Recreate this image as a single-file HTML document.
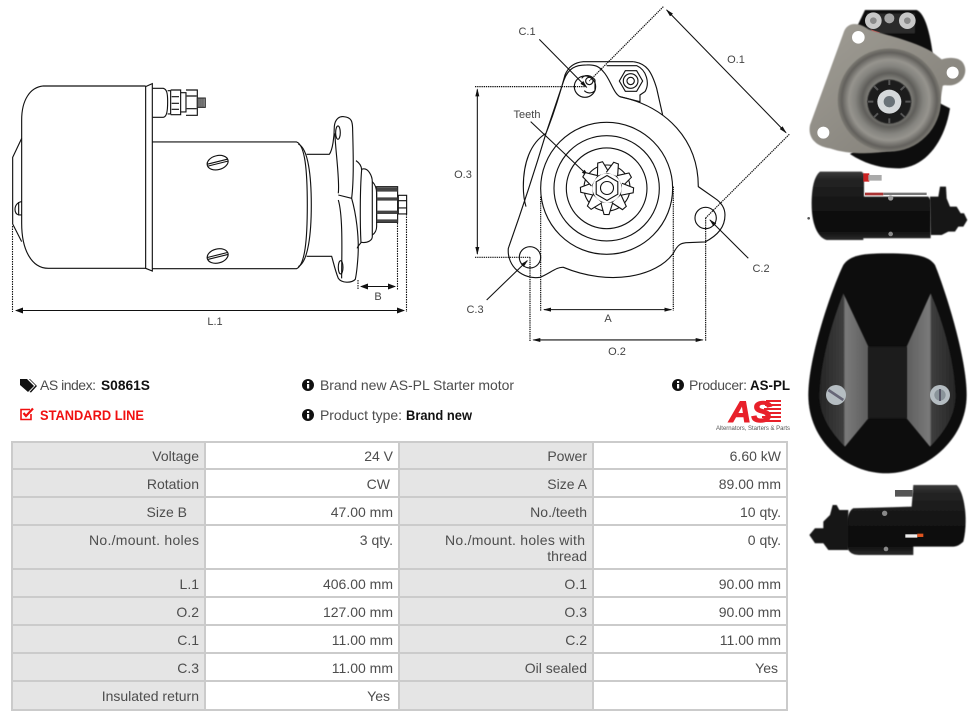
<!DOCTYPE html>
<html><head><meta charset="utf-8"><style>
html,body{margin:0;padding:0;background:#fff;width:976px;height:720px;overflow:hidden}
svg{display:block}
text{font-family:"Liberation Sans",sans-serif}
.d{fill:none;stroke:#111;stroke-width:3.4}
.t{font-size:14px;fill:#4d4d4d;text-anchor:end}
.l{font-size:11px;fill:#444;text-anchor:middle}
.h{font-size:14px;fill:#4d4d4d}
.b{font-size:14px;fill:#111;font-weight:bold}
</style></head><body>
<svg width="976" height="720" viewBox="0 0 976 720" xmlns="http://www.w3.org/2000/svg">
<defs>
<marker id="a" markerWidth="8" markerHeight="6" refX="7" refY="3" orient="auto-start-reverse" markerUnits="userSpaceOnUse"><path d="M0,0L8,3L0,6z" fill="#111"/></marker>
<marker id="z" markerWidth="24" markerHeight="18" refX="21" refY="9" orient="auto-start-reverse" markerUnits="userSpaceOnUse"><path d="M0,3L24,9L0,15z" fill="#111"/></marker>
<filter id="s" x="-5%" y="-5%" width="110%" height="110%"><feGaussianBlur stdDeviation="1.5"/></filter>
<linearGradient id="k" x1="0" y1="0" x2="0" y2="1"><stop offset="0" stop-color="#3a3a3a"/><stop offset=".12" stop-color="#242424"/><stop offset=".5" stop-color="#141414"/><stop offset=".85" stop-color="#0a0a0a"/><stop offset="1" stop-color="#2c2c2c"/></linearGradient>
<linearGradient id="p" x1="0" y1="0" x2="1" y2="1"><stop offset="0" stop-color="#a09d95"/><stop offset="1" stop-color="#7f7c75"/></linearGradient>
<radialGradient id="r"><stop offset="0" stop-color="#666"/><stop offset=".42" stop-color="#7d7c77"/><stop offset=".52" stop-color="#5f5e5a"/><stop offset=".66" stop-color="#85847f"/><stop offset=".78" stop-color="#96948e"/><stop offset=".92" stop-color="#62605c"/><stop offset="1" stop-color="#7c7a73"/></radialGradient>
<linearGradient id="f" x1="0" y1="0" x2="1" y2="0"><stop offset="0" stop-color="#262626"/><stop offset=".49" stop-color="#3e3e3e"/><stop offset=".53" stop-color="#7a7a7a"/><stop offset="1" stop-color="#5e5e5e"/></linearGradient>
<linearGradient id="f2" x1="1" y1="0" x2="0" y2="0"><stop offset="0" stop-color="#262626"/><stop offset=".49" stop-color="#3e3e3e"/><stop offset=".53" stop-color="#7a7a7a"/><stop offset="1" stop-color="#5e5e5e"/></linearGradient>
<path id="tooth" d="M-6,-14.500L-2.500,-26.500H2.500L6,-14.500" fill="#fff" stroke="#111" stroke-width="1.100"/>
</defs>

<!-- side drawing -->
<g transform="translate(0,70) scale(.3333)">
<path class="d" d="M437,48H130C90,52 65,90 65,150V460C65,540 95,595 145,595H437"/>
<path class="d" d="M437,50V595L457,603V41Z"/>
<path class="d" d="M65,205L38,262V462L65,515"/>
<path class="d" d="M66,395C55,395 45,405 45,418C45,428 50,433 56,435H66M56,396V434"/>
<path class="d" d="M458,55H490C500,58 503,68 503,95C503,125 500,140 490,142H458"/>
<path class="d" d="M503,62H512V132H503M512,60H542V134H512M515,80H537M515,100H537M515,118H537M542,68H558V126H542M558,60H592V136H558M560,78H590M560,116H590"/>
<path d="M592,84H616V112H592Z" fill="#999" stroke="#222" stroke-width="3"/>
<path d="M597,84V112M603,84V112M609,84V112" stroke="#222" stroke-width="2"/>
<path class="d" d="M457,216H890C915,225 922,300 922,405C922,510 915,585 890,596H457"/>
<path class="d" d="M895,222C925,235 934,320 934,405C934,490 925,575 895,590"/>
<path class="d" d="M920,253H988C998,240 1003,200 1003,170C1005,145 1020,138 1032,140C1055,142 1058,155 1058,180C1060,250 1062,330 1055,385C1068,430 1078,500 1074,560C1072,590 1070,610 1066,628C1055,640 1025,640 1015,625C1005,600 1000,575 995,559H920"/>
<path class="d" d="M1015,370C1020,330 1005,230 1005,190M1015,390C1030,440 1025,560 1025,625M1015,375L1055,385"/>
<ellipse class="d" cx="1014" cy="188" rx="7" ry="20"/>
<ellipse class="d" cx="1022" cy="592" rx="7" ry="20"/>
<path class="d" d="M1068,272C1080,280 1085,290 1085,300C1080,360 1080,460 1083,518C1078,525 1072,530 1072,535"/>
<path class="d" d="M1085,298C1105,290 1117,320 1117,335V500C1117,510 1105,520 1083,517"/>
<path class="d" d="M1117,335C1127,345 1130,355 1130,370V470C1130,480 1125,490 1117,495"/>
<path class="d" d="M1130,350H1193V457H1130Z"/>
<path d="M1130,352H1193V365H1130ZM1130,382H1193V392H1130ZM1130,422H1193V432H1130ZM1130,448H1193V456H1130Z" fill="#444"/>
<path class="d" d="M1195,376H1220V432H1195ZM1195,392H1220M1195,414H1220"/>
<g transform="rotate(-14 653 278)"><ellipse class="d" cx="653" cy="278" rx="32" ry="21"/><path class="d" d="M622,275H684M622,281H684"/></g>
<g transform="rotate(-14 653 558)"><ellipse class="d" cx="653" cy="558" rx="32" ry="21"/><path class="d" d="M622,555H684M622,561H684"/></g>
</g>
<g fill="none" stroke="#111" stroke-width="1.100">
<path d="M12.500,226V312M358,280V290M397.500,223V290M406.500,214V312" stroke-dasharray="1.500 1"/>
<path d="M16,310.500H404" marker-start="url(#a)" marker-end="url(#a)"/>
<path d="M361,286.500H395" marker-start="url(#a)" marker-end="url(#a)"/>
</g>
<text class="l" x="215" y="325">L.1</text>
<text class="l" x="378" y="300">B</text>

<!-- front drawing -->
<g transform="translate(440,0) scale(.3333)">
<path class="d" d="M540,290L600,305V285L615,275C630,250 620,210 590,197H500"/>
<path class="d" d="M580,185H430C405,187 385,200 375,225C355,300 330,370 318,400C270,560 235,660 205,745C200,800 250,840 300,832C330,820 350,800 370,802C510,860 650,830 700,760C715,730 725,730 740,728L795,726C835,705 855,680 855,645C855,620 840,605 825,595L775,560C775,420 680,320 540,290C520,280 510,235 490,215C478,200 465,193 440,195C405,195 385,205 372,240L318,400"/>
<path class="d" d="M580,185C620,190 635,215 650,265L668,345"/>
<path class="d" d="M318,400C270,430 250,490 250,560C250,580 252,600 258,620"/>
<circle class="d" cx="500" cy="565" r="198"/><circle class="d" cx="500" cy="565" r="158"/><circle class="d" cx="500" cy="565" r="121"/>
<circle class="d" cx="435" cy="260" r="32"/><circle class="d" cx="270" cy="772" r="32"/><circle class="d" cx="797" cy="654" r="32"/>
<path class="d" d="M425,235C435,222 455,225 465,240V272C455,282 440,280 433,272"/>
<circle class="d" cx="448" cy="243" r="11"/>
<path class="d" d="M556,212H590L608,243L590,274H556L538,243Z"/><circle class="d" cx="572" cy="243" r="22"/><circle class="d" cx="572" cy="243" r="11"/>
<g fill="none" stroke="#111" stroke-width="3.200">
<path d="M298,118L440,262" marker-end="url(#z)"/>
<path d="M272,365L445,528" marker-end="url(#z)"/>
<path d="M925,775L810,660" marker-end="url(#z)"/>
<path d="M140,900L262,782" marker-end="url(#z)"/>
<path d="M680,30L1038,398" marker-start="url(#z)" marker-end="url(#z)"/>
<path d="M112,268V762" marker-start="url(#z)" marker-end="url(#z)"/>
<path d="M312,929H694" marker-start="url(#z)" marker-end="url(#z)"/>
<path d="M280,1020H788" marker-start="url(#z)" marker-end="url(#z)"/>
<g stroke-dasharray="4 2.500" stroke-width="3.600">
<path d="M670,20L448,243M1048,403L797,654M105,260H435M105,772H270M302,590V932M700,560V932M270,772V1024M797,654V1024"/>
</g></g>
</g>
<g transform="translate(607,188)">
<circle r="23" fill="none" stroke="#111" stroke-width="1.100"/>
<circle r="15" fill="none" stroke="#111" stroke-width="1.100"/>
<use href="#tooth" transform="rotate(-15)"/><use href="#tooth" transform="rotate(20)"/><use href="#tooth" transform="rotate(61)"/><use href="#tooth" transform="rotate(95)"/><use href="#tooth" transform="rotate(139)"/><use href="#tooth" transform="rotate(181)"/><use href="#tooth" transform="rotate(222)"/><use href="#tooth" transform="rotate(266)"/><use href="#tooth" transform="rotate(-60)"/>
<path d="M0,-12.500L10.800,-6.200V6.200L0,12.500L-10.800,6.200V-6.200Z" fill="#fff" stroke="#111" stroke-width="1.100"/>
<circle r="6.500" fill="#fff" stroke="#111" stroke-width="1.100"/>
</g>
<g><text class="l" x="527" y="35">C.1</text><text class="l" x="527" y="118">Teeth</text><text class="l" x="736" y="63">O.1</text><text class="l" x="463" y="178">O.3</text><text class="l" x="761" y="272">C.2</text><text class="l" x="475" y="313">C.3</text><text class="l" x="608" y="322">A</text><text class="l" x="617" y="355">O.2</text></g>

<!-- photos -->
<g transform="translate(800,0) scale(.3333)">
<path d="M172,78L195,30H350C375,40 390,100 398,160Z" fill="#111" filter="url(#s)"/>
<path d="M150,462C200,495 250,506 300,505C380,500 435,420 450,325L400,300Z" fill="#0b0b0b" filter="url(#s)"/>
<path d="M200,40H345V100H200Z" fill="#2b2b2b" filter="url(#s)"/>
<circle cx="220" cy="62" r="25" fill="#c8c8c8"/><circle cx="220" cy="62" r="10" fill="#8a8a8a"/><circle cx="322" cy="62" r="25" fill="#c8c8c8"/><circle cx="322" cy="62" r="10" fill="#8a8a8a"/><circle cx="268" cy="55" r="15" fill="#a5a5a5"/>
<path d="M212,88L240,98L225,106Z" fill="#c33"/>
<path d="M130,100C140,65 175,65 205,88C260,105 345,125 395,155L425,178C450,170 480,172 490,190C505,215 490,245 465,253C445,260 435,252 428,258C420,320 400,390 335,432C280,462 160,470 90,445C50,440 22,415 30,375Z" fill="url(#p)" filter="url(#s)"/>
<circle cx="268" cy="300" r="155" fill="url(#r)" filter="url(#s)"/>
<circle cx="268" cy="305" r="66" fill="#1c1c1c" filter="url(#s)"/>
<g stroke="#555" stroke-width="6" fill="none"><path d="M268,240V255M315,258L302,270M332,305H316M315,352L302,340M268,370V355M222,352L234,340M204,305H220M222,258L234,270"/></g>
<circle cx="268" cy="305" r="36" fill="#d5d8da"/><circle cx="268" cy="305" r="17" fill="#6a7278"/>
<circle cx="175" cy="112" r="19" fill="#fff"/><circle cx="458" cy="218" r="18" fill="#fff"/><circle cx="70" cy="398" r="18" fill="#fff"/>
<path d="M60,515H185L192,522V590H385L392,600V715H190V720H80C50,712 35,665 35,615C35,565 42,530 60,515Z" fill="url(#k)" filter="url(#s)"/>
<path d="M390,590H415L420,560H438L440,595L450,620H470L482,640H492L502,660L490,680H475L465,695H445L425,705H392Z" fill="#181818" filter="url(#s)"/>
<path d="M190,520H208V545H190Z" fill="#c22"/><path d="M205,525H245V542H205Z" fill="#aaa"/>
<path d="M195,578H250V586H195Z" fill="#a33"/><path d="M250,578H380V585H250Z" fill="#777"/>
<circle cx="272" cy="594" r="8" fill="#999"/><circle cx="272" cy="702" r="7" fill="#888"/><circle cx="26" cy="655" r="4" fill="#555"/>
</g>
<g transform="translate(800,245) scale(.3333)">
<path d="M130,60C150,30 190,25 260,25C340,25 385,30 405,60C430,120 500,330 500,450C500,590 370,685 260,685C140,685 25,590 25,450C25,330 100,120 130,60Z" fill="#0c0c0c" filter="url(#s)"/>
<path d="M130,145L205,305V520L135,605C90,560 58,510 58,450C62,340 100,220 130,145Z" fill="url(#f)" filter="url(#s)"/>
<path d="M392,145L320,305V520L390,605C435,560 467,510 467,450C463,340 425,220 392,145Z" fill="url(#f2)" filter="url(#s)"/>
<path d="M205,305H320V520H205Z" fill="#1d1d1d" filter="url(#s)"/>
<circle cx="108" cy="450" r="30" fill="#b5bdc2"/><path d="M85,435L130,465" stroke="#667" stroke-width="8"/>
<circle cx="420" cy="450" r="30" fill="#b5bdc2"/><circle cx="420" cy="450" r="17" fill="#8a949a"/><path d="M420,432V468" stroke="#556" stroke-width="6"/>
<path d="M340,720H470C495,745 505,830 490,890C480,900 470,905 460,905H340V930H180C160,930 145,925 140,900C135,850 140,800 160,790L335,785Z" fill="url(#k)" filter="url(#s)"/>
<path d="M145,795H118L110,780H98L90,810L70,830V850H45L28,870L45,895H70L85,915H145Z" fill="#181818" filter="url(#s)"/>
<path d="M285,735H338V755H285Z" fill="#555"/><circle cx="254" cy="805" r="8" fill="#888"/><circle cx="258" cy="912" r="7" fill="#888"/>
<path d="M316,868H352V878H316Z" fill="#eee"/><path d="M352,866H370V876H352Z" fill="#e0541e"/>
</g>

<!-- info -->
<g fill="#111">
<path d="M20,379H27L34,386L28,392L20,385Z"/><path d="M29,379L35.500,385.500L29.500,392L31,392.500L37,386L30,379Z"/>
</g>
<text x="40" y="390" class="h" textLength="56">AS index:</text><text x="101" y="390" class="b" textLength="49" lengthAdjust="spacingAndGlyphs">S0861S</text>
<g fill="none" stroke="#f01010" stroke-width="1.600"><path d="M31,414V419.500H21V409.500H30"/><path d="M23.500,413L26,416L33,408.500" stroke-width="2.200"/></g>
<text x="40" y="420" font-size="14" font-weight="bold" fill="#f01010" textLength="104" lengthAdjust="spacingAndGlyphs">STANDARD LINE</text>
<circle cx="308" cy="385" r="6" fill="#111"/><rect x="307" y="384" width="2.200" height="4.500" fill="#fff"/><rect x="307" y="381" width="2.200" height="2" fill="#fff"/>
<text x="320" y="390" class="h" textLength="194">Brand new AS-PL Starter motor</text>
<circle cx="308" cy="415" r="6" fill="#111"/><rect x="307" y="414" width="2.200" height="4.500" fill="#fff"/><rect x="307" y="411" width="2.200" height="2" fill="#fff"/>
<text x="320" y="420" class="h" textLength="82">Product type:</text><text x="406" y="420" class="b" textLength="66" lengthAdjust="spacingAndGlyphs">Brand new</text>
<circle cx="678" cy="385" r="6" fill="#111"/><rect x="677" y="384" width="2.200" height="4.500" fill="#fff"/><rect x="677" y="381" width="2.200" height="2" fill="#fff"/>
<text x="689" y="390" class="h" textLength="58">Producer:</text><text x="750" y="390" class="b" textLength="40" lengthAdjust="spacingAndGlyphs">AS-PL</text>
<text x="729" y="422" font-size="30" font-weight="bold" font-style="italic" fill="#e8202a" stroke="#e8202a" stroke-width="1" textLength="43" lengthAdjust="spacingAndGlyphs">AS</text>
<path d="M766,400H781V402H766ZM765,404H781V406H765ZM764,408H781V410H764ZM763,412H781V414H763ZM762,416H781V418H762ZM761,420H781V422H761Z" fill="#e8202a"/>
<text x="716" y="430" font-size="6" fill="#555" textLength="74">Alternators, Starters &amp; Parts</text>

<!-- table -->
<rect x="12" y="442" width="775" height="268" fill="#fff"/>
<rect x="12" y="442" width="193" height="268" fill="#e5e5e5"/><rect x="399" y="442" width="194" height="268" fill="#e5e5e5"/>
<g stroke="#cbcbcb" stroke-width="2" fill="none">
<rect x="12" y="442" width="775" height="268"/>
<path d="M205,441V710M399,441V710M593,441V710M12,469H787M12,497H787M12,525H787M12,569H787M12,597H787M12,625H787M12,653H787M12,681H787"/>
</g>
<g>
<text class="t" x="199" y="461">Voltage</text><text class="t" x="393" y="461">24 V</text><text class="t" x="587" y="461">Power</text><text class="t" x="781" y="461">6.60 kW</text>
<text class="t" x="199" y="489">Rotation</text><text class="t" x="390" y="489">CW</text><text class="t" x="587" y="489">Size A</text><text class="t" x="781" y="489">89.00 mm</text>
<text class="t" x="187" y="517">Size B</text><text class="t" x="393" y="517">47.00 mm</text><text class="t" x="587" y="517">No./teeth</text><text class="t" x="781" y="517">10 qty.</text>
<text class="t" x="199" y="545" textLength="110">No./mount. holes</text><text class="t" x="393" y="545">3 qty.</text><text class="t" x="585" y="545" textLength="140">No./mount. holes with</text><text class="t" x="587" y="561">thread</text><text class="t" x="781" y="545">0 qty.</text>
<text class="t" x="199" y="589">L.1</text><text class="t" x="393" y="589">406.00 mm</text><text class="t" x="587" y="589">O.1</text><text class="t" x="781" y="589">90.00 mm</text>
<text class="t" x="199" y="617">O.2</text><text class="t" x="393" y="617">127.00 mm</text><text class="t" x="587" y="617">O.3</text><text class="t" x="781" y="617">90.00 mm</text>
<text class="t" x="199" y="645">C.1</text><text class="t" x="393" y="645">11.00 mm</text><text class="t" x="587" y="645">C.2</text><text class="t" x="781" y="645">11.00 mm</text>
<text class="t" x="199" y="673">C.3</text><text class="t" x="393" y="673">11.00 mm</text><text class="t" x="587" y="673">Oil sealed</text><text class="t" x="778" y="673">Yes</text>
<text class="t" x="199" y="701">Insulated return</text><text class="t" x="390" y="701">Yes</text>
</g>
</svg>
</body></html>
